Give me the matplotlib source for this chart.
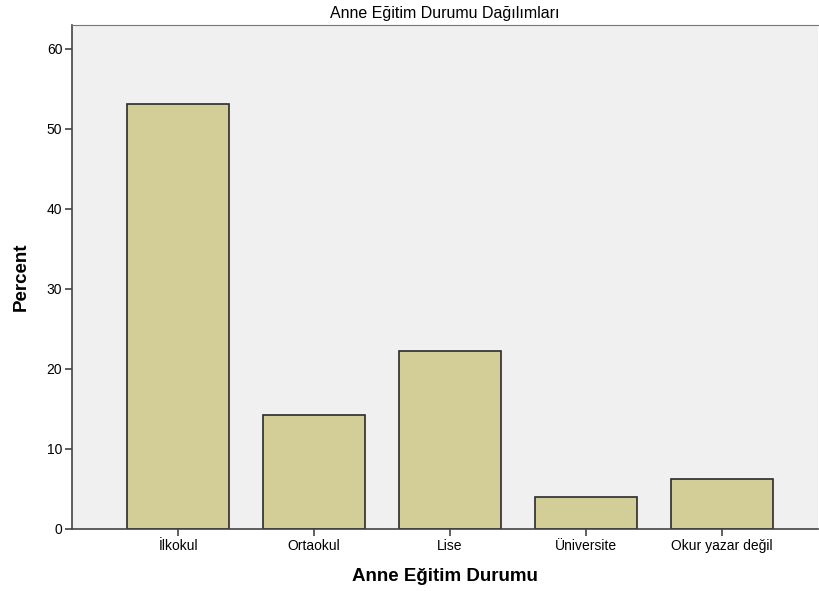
import numpy as np
import matplotlib.pyplot as plt

plt.rcParams['font.family'] = ['Liberation Sans', 'DejaVu Sans']

# veriler
kategoriler = ['İlkokul', 'Ortaokul', 'Lise', 'Üniversite', 'Okur yazar değil']
yuzde = [53.1, 14.3, 22.2, 4.0, 6.2]
y_ticks = [0, 10, 20, 30, 40, 50, 60]

fig = plt.figure(figsize=(8.19, 5.91), dpi=100)
ax = fig.add_axes([0.088, 0.105, 0.911, 0.853])
ax.set_facecolor('#f0f0f0')

x = np.arange(len(kategoriler))
ax.bar(x, yuzde, width=0.75, color='#d3ce97', edgecolor='#2b2b2b', linewidth=1.2, zorder=2)

ax.set_xlim(-0.78, 4.71)
ax.set_ylim(0, 63)
ax.set_yticks(y_ticks)
ax.set_xticks(x)
ax.set_xticklabels(kategoriler)
ax.tick_params(axis='both', labelsize=10, length=5, width=1.2, color='#444444', direction='out', pad=2)

for s in ['left', 'bottom']:
    ax.spines[s].set_color('#444444')
    ax.spines[s].set_linewidth(1.2)
ax.spines['top'].set_color('#777777')
ax.spines['right'].set_visible(False)

ax.set_title('Anne Eğitim Durumu Dağılımları', fontsize=11.5, pad=5)
ax.set_xlabel('Anne Eğitim Durumu', fontsize=13.5, fontweight='bold', labelpad=11)
ax.set_ylabel('Percent', fontsize=13.5, fontweight='bold', labelpad=12)

plt.savefig('out.png', dpi=100)
